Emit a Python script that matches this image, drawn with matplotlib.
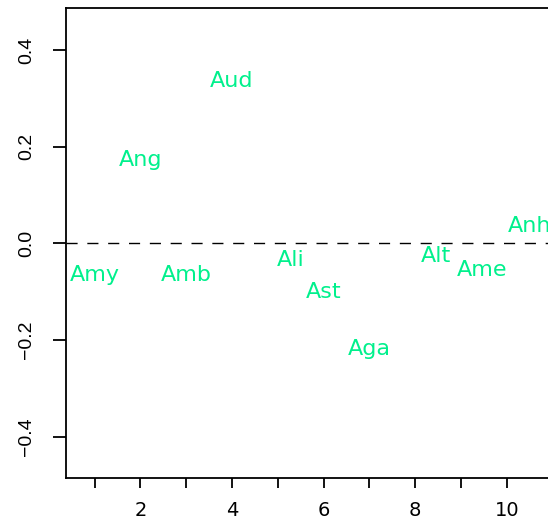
import matplotlib
matplotlib.use("Agg")
import matplotlib.pyplot as plt
from matplotlib.transforms import offset_copy

plt.rcParams["font.family"] = ["Liberation Sans", "DejaVu Sans"]

# Label positions (index, value)
names = ["Amy", "Ang", "Amb", "Aud", "Ali", "Ast", "Aga", "Alt", "Ame", "Anh"]
xpos = [1.0, 2.0, 3.0, 4.0, 5.29, 6.0, 7.0, 8.45, 9.47, 10.5]
yval = [-0.061, 0.176, -0.061, 0.340, -0.030, -0.097, -0.214, -0.022, -0.050, 0.041]

xticks = list(range(1, 12))
xticklabels = ["", "2", "", "4", "", "6", "", "8", "", "10", ""]
yticks = [-0.4, -0.2, 0.0, 0.2, 0.4]
yticklabels = ["\u22120.4", "\u22120.2", "0.0", "0.2", "0.4"]

W, H, DPI = 548, 521, 100
fig = plt.figure(figsize=(W / DPI, H / DPI), dpi=DPI)

left_px, right_px, top_px, bottom_px = 66, 575, 8, 478
ax = fig.add_axes([left_px / W, 1 - bottom_px / H,
                   (right_px - left_px) / W, (bottom_px - top_px) / H])

ax.set_xlim(0.375, 11.49)
ax.set_ylim(-0.485, 0.487)

ax.axhline(0, color="black", lw=1.0, linestyle=(0, (8, 7)))

# center each label on its value (shift baseline down by half cap height)
label_size = 16
trans = offset_copy(ax.transData, fig=fig, x=0, y=-0.365 * label_size,
                    units="points")
for n, x, y in zip(names, xpos, yval):
    ax.text(x, y, n, transform=trans, ha="center", va="baseline",
            fontsize=label_size, color="#00F08C", family="DejaVu Sans",
            clip_on=False)

ax.set_xticks(xticks)
ax.set_xticklabels(xticklabels, family="DejaVu Sans")
ax.set_yticks(yticks)
ax.set_yticklabels(yticklabels, rotation=90, va="center")

ax.tick_params(axis="x", length=7.5, width=1.3, labelsize=14, pad=9)
ax.tick_params(axis="y", length=9.5, width=1.3, labelsize=14, pad=13)
for s in ax.spines.values():
    s.set_linewidth(1.3)

fig.savefig("out.png", dpi=DPI)
